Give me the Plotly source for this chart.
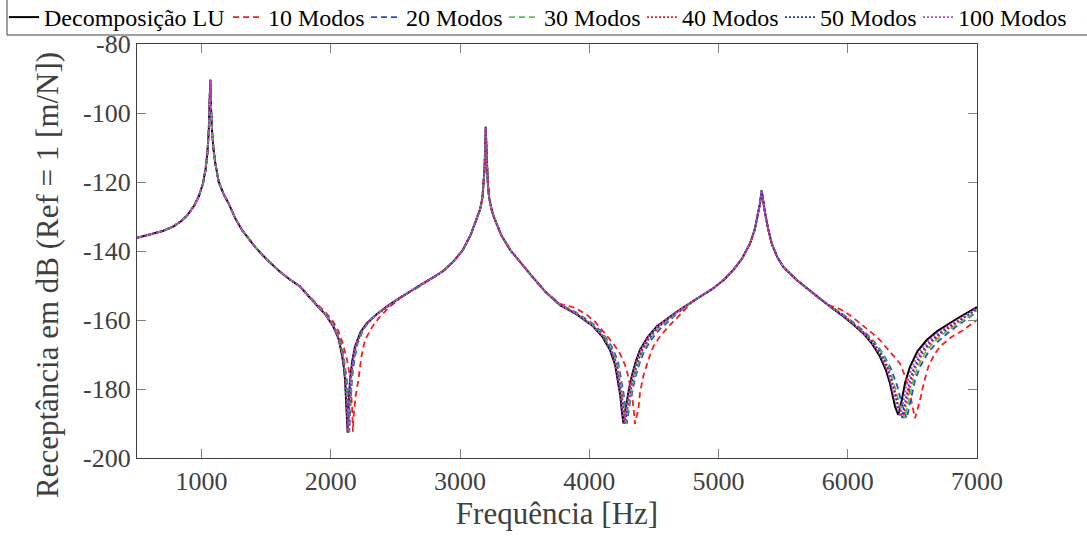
import plotly.graph_objects as go

# ---------------- data ----------------
# shared segments (all series overlap there)
p1_f = [500, 600, 700, 780, 840, 890, 940, 980, 1010, 1030, 1045, 1055, 1062, 1067,
        1073, 1080, 1092, 1106, 1132, 1170, 1209, 1260, 1312, 1413, 1500, 1600, 1680, 1761]
p1_db = [-136.2, -135.3, -134.2, -132.9, -131.4, -129.6, -127.0, -124.0, -120.5, -116.5, -111.5, -105.5, -98.5, -90.4,
         -98.5, -104.9, -110.5, -114.6, -119.9, -123.5, -126.2, -130.5, -133.9, -138.8, -142.3, -145.8, -148.2, -150.3]

p2_f = [2780, 2870, 2950, 3020, 3080, 3130, 3154, 3173, 3183, 3189, 3194, 3199, 3204, 3209, 3215, 3225, 3244, 3265,
        3320, 3390, 3470, 3560, 3660]
p2_db = [-148.0, -145.8, -143.0, -139.8, -135.5, -130.5, -128.0, -124.6, -120.5, -116.3, -110.5, -104.0, -110.5, -116.3,
         -120.5, -124.6, -128.0, -130.5, -135.5, -139.8, -143.5, -147.5, -151.8]

p3_f = [4800, 4960, 5040, 5114, 5180, 5244, 5280, 5308, 5322, 5334, 5346, 5360, 5385, 5411, 5455, 5501, 5605, 5700, 5780]
p3_db = [-154.6, -150.8, -148.4, -145.5, -142.3, -137.8, -133.8, -129.0, -126.0, -122.5, -126.0, -129.0, -133.8, -137.8, -141.8, -144.6, -148.4, -151.3, -153.8]

# antiresonance 1
lu_a1_f = [1890, 1960, 2019, 2060, 2084, 2100, 2110, 2118, 2124, 2130, 2136, 2142, 2148, 2165, 2187, 2230, 2277, 2350, 2432, 2520, 2612, 2690]
lu_a1_db = [-155.7, -158.5, -161.9, -165.5, -169.7, -173.5, -177.4, -182.5, -187.5, -192.7, -186.5, -181.5, -177.4, -172.0, -167.7, -163.5, -161.0, -158.5, -156.1, -153.9, -151.8, -149.9]
m10_a1_f = [1890, 1960, 2019, 2060, 2096, 2125, 2148, 2160, 2166, 2170, 2178, 2192, 2213, 2237, 2264, 2320, 2380, 2455, 2535, 2610, 2690]
m10_a1_db = [-155.3, -157.8, -160.5, -163.3, -167.2, -171.5, -176.4, -181.5, -186.5, -192.4, -187.0, -182.0, -177.4, -170.5, -165.8, -162.0, -159.0, -156.2, -153.7, -151.9, -150.2]
m20_a1_f = [1890, 1960, 2019, 2064, 2093, 2110, 2122, 2131, 2137, 2143, 2150, 2157, 2164, 2183, 2206, 2250, 2297, 2368, 2448, 2532, 2612, 2690]
m20_a1_db = [-155.5, -158.1, -161.3, -164.8, -169.0, -172.9, -176.8, -182.0, -187.0, -192.5, -186.0, -181.0, -176.9, -171.3, -167.0, -162.8, -160.3, -157.8, -155.7, -153.7, -151.8, -150.0]
m30_a1_f = [1890, 1960, 2019, 2062, 2090, 2106, 2118, 2127, 2133, 2139, 2145, 2151, 2158, 2176, 2199, 2243, 2290, 2362, 2444, 2528, 2612, 2690]
m30_a1_db = [-155.6, -158.3, -161.6, -165.1, -169.4, -173.2, -177.1, -182.2, -187.2, -192.5, -186.2, -181.2, -177.1, -171.6, -167.3, -163.1, -160.6, -158.1, -155.9, -153.8, -151.8, -149.9]
m40_a1_f = [1890, 1960, 2019, 2060, 2088, 2104, 2115, 2124, 2130, 2136, 2142, 2148, 2154, 2172, 2195, 2238, 2285, 2358, 2440, 2526, 2612, 2690]
m40_a1_db = [-155.6, -158.4, -161.7, -165.2, -169.5, -173.3, -177.2, -182.3, -187.3, -192.6, -186.3, -181.3, -177.2, -171.8, -167.5, -163.3, -160.8, -158.3, -156.0, -153.9, -151.8, -149.9]
m50_a1_f = [1890, 1960, 2019, 2060, 2087, 2103, 2114, 2122, 2128, 2134, 2140, 2146, 2152, 2170, 2192, 2235, 2282, 2355, 2437, 2524, 2612, 2690]
m50_a1_db = [-155.7, -158.5, -161.8, -165.3, -169.6, -173.4, -177.3, -182.4, -187.4, -192.6, -186.4, -181.4, -177.3, -171.9, -167.6, -163.4, -160.9, -158.4, -156.1, -153.9, -151.8, -149.9]
m100_a1_f = [1890, 1960, 2019, 2060, 2086, 2102, 2112, 2120, 2126, 2132, 2138, 2144, 2150, 2167, 2189, 2232, 2279, 2352, 2434, 2522, 2612, 2690]
m100_a1_db = [-155.7, -158.5, -161.9, -165.4, -169.7, -173.5, -177.4, -182.5, -187.5, -192.7, -186.5, -181.5, -177.4, -172.0, -167.7, -163.5, -161.0, -158.5, -156.1, -153.9, -151.8, -149.9]

# antiresonance 2
lu_a2_f = [3773, 3900, 4031, 4100, 4160, 4200, 4225, 4240, 4251, 4264, 4277, 4290, 4310, 4328, 4360, 4392, 4450, 4521, 4600, 4676]
lu_a2_db = [-155.7, -158.3, -161.9, -164.8, -168.7, -173.0, -178.4, -182.0, -186.1, -190.0, -186.5, -183.2, -179.5, -176.4, -172.0, -168.7, -165.0, -161.9, -159.6, -157.6]
m10_a2_f = [3773, 3876, 3967, 4044, 4121, 4186, 4237, 4276, 4302, 4320, 4335, 4346, 4354, 4366, 4379, 4392, 4417, 4456, 4495, 4547, 4612, 4676]
m10_a2_db = [-155.3, -156.3, -158.1, -160.5, -163.9, -166.8, -169.7, -173.0, -176.4, -179.8, -183.2, -187.0, -190.1, -188.0, -186.1, -181.2, -176.4, -171.6, -167.7, -164.8, -161.9, -159.5]
m20_a2_f = [3773, 3900, 4031, 4108, 4176, 4222, 4249, 4265, 4277, 4290, 4304, 4318, 4340, 4358, 4391, 4423, 4480, 4547, 4620, 4676]
m20_a2_db = [-155.5, -157.8, -161.2, -164.0, -167.9, -172.0, -177.4, -181.3, -185.6, -190.0, -186.5, -183.2, -179.5, -176.4, -172.3, -169.2, -165.7, -162.6, -160.2, -158.2]
m30_a2_f = [3773, 3900, 4031, 4106, 4172, 4216, 4242, 4258, 4270, 4283, 4297, 4311, 4332, 4350, 4382, 4414, 4472, 4540, 4615, 4676]
m30_a2_db = [-155.6, -158.0, -161.5, -164.3, -168.2, -172.4, -177.8, -181.6, -185.8, -190.0, -186.5, -183.2, -179.5, -176.4, -172.2, -169.0, -165.4, -162.3, -159.9, -157.9]
m40_a2_f = [3773, 3900, 4031, 4104, 4168, 4211, 4237, 4253, 4265, 4278, 4291, 4305, 4326, 4344, 4376, 4408, 4466, 4535, 4611, 4676]
m40_a2_db = [-155.6, -158.1, -161.7, -164.5, -168.4, -172.6, -178.0, -181.8, -185.9, -190.0, -186.5, -183.2, -179.5, -176.4, -172.1, -168.9, -165.2, -162.1, -159.8, -157.8]
m50_a2_f = [3773, 3900, 4031, 4102, 4165, 4207, 4232, 4248, 4260, 4273, 4286, 4299, 4320, 4338, 4370, 4402, 4460, 4530, 4607, 4676]
m50_a2_db = [-155.7, -158.2, -161.8, -164.6, -168.5, -172.8, -178.2, -181.9, -186.0, -190.0, -186.5, -183.2, -179.5, -176.4, -172.0, -168.8, -165.1, -162.0, -159.7, -157.7]
m100_a2_f = [3773, 3900, 4031, 4101, 4162, 4203, 4228, 4243, 4255, 4268, 4281, 4294, 4314, 4332, 4364, 4396, 4454, 4525, 4603, 4676]
m100_a2_db = [-155.7, -158.3, -161.9, -164.7, -168.6, -172.9, -178.3, -182.0, -186.1, -190.0, -186.5, -183.2, -179.5, -176.4, -172.0, -168.7, -165.0, -161.9, -159.6, -157.6]

# antiresonance 3
lu_a3_f = [5862, 5950, 6040, 6120, 6190, 6249, 6295, 6327, 6350, 6366, 6391, 6405, 6418, 6445, 6482, 6540, 6611, 6690, 6766, 6850, 6930, 7000]
lu_a3_db = [-156.1, -158.5, -161.2, -163.9, -167.0, -170.6, -174.5, -178.4, -182.0, -185.1, -187.5, -185.5, -183.2, -178.0, -173.5, -169.0, -165.8, -163.3, -161.4, -159.5, -157.8, -156.3]
m10_a3_f = [5862, 5939, 6017, 6100, 6180, 6249, 6310, 6360, 6404, 6440, 6470, 6490, 6508, 6520, 6535, 6559, 6590, 6624, 6670, 6714, 6800, 6894, 7000]
m10_a3_db = [-155.8, -156.8, -158.6, -161.0, -163.5, -165.8, -168.5, -170.8, -172.6, -176.0, -179.5, -183.0, -186.1, -188.5, -186.5, -183.2, -178.0, -173.5, -170.0, -167.7, -165.0, -162.9, -160.0]
m20_a3_f = [5862, 5950, 6040, 6120, 6200, 6270, 6330, 6380, 6410, 6435, 6456, 6470, 6490, 6520, 6560, 6620, 6690, 6770, 6850, 6930, 7000]
m20_a3_db = [-156.0, -158.0, -160.6, -163.1, -166.1, -169.6, -173.8, -178.8, -183.0, -186.5, -188.5, -186.0, -182.5, -177.5, -173.5, -169.5, -166.5, -163.9, -161.6, -159.4, -157.6]
m30_a3_f = [5862, 5950, 6040, 6120, 6200, 6265, 6316, 6352, 6380, 6400, 6440, 6455, 6470, 6500, 6538, 6596, 6661, 6736, 6808, 6883, 6953, 7000]
m30_a3_db = [-156.0, -158.1, -160.8, -163.4, -166.4, -169.6, -173.5, -177.6, -181.3, -184.7, -188.5, -186.2, -183.7, -178.5, -174.0, -169.7, -166.6, -164.1, -162.2, -160.3, -158.6, -157.1]
m40_a3_f = [5862, 5950, 6040, 6120, 6198, 6260, 6310, 6345, 6372, 6391, 6428, 6442, 6457, 6487, 6524, 6582, 6649, 6725, 6798, 6875, 6947, 7000]
m40_a3_db = [-156.0, -158.2, -160.9, -163.5, -166.5, -169.8, -173.7, -177.8, -181.5, -184.8, -188.4, -186.1, -183.6, -178.4, -173.9, -169.5, -166.4, -163.9, -162.0, -160.1, -158.4, -156.9]
m50_a3_f = [5862, 5950, 6040, 6120, 6195, 6256, 6305, 6339, 6365, 6384, 6418, 6432, 6446, 6475, 6512, 6570, 6638, 6715, 6789, 6868, 6942, 7000]
m50_a3_db = [-156.1, -158.3, -161.0, -163.6, -166.6, -170.0, -173.9, -178.0, -181.6, -184.9, -188.3, -186.0, -183.5, -178.3, -173.8, -169.3, -166.2, -163.7, -161.8, -159.9, -158.2, -156.7]
m100_a3_f = [5862, 5950, 6040, 6120, 6192, 6252, 6300, 6333, 6358, 6376, 6405, 6419, 6432, 6460, 6497, 6555, 6625, 6703, 6778, 6860, 6936, 7000]
m100_a3_db = [-156.1, -158.4, -161.1, -163.8, -166.8, -170.3, -174.2, -178.2, -181.8, -185.0, -188.0, -185.8, -183.4, -178.2, -173.7, -169.2, -166.0, -163.5, -161.6, -159.7, -158.0, -156.5]

series_names = ["Decomposição LU", "10 Modos", "20 Modos", "30 Modos", "40 Modos", "50 Modos", "100 Modos"]
x_ticks = [1000, 2000, 3000, 4000, 5000, 6000, 7000]
y_ticks = [-80, -100, -120, -140, -160, -180, -200]
x_title = "Frequência [Hz]"
y_title = "Receptância em dB (Ref = 1 [m/N])"

# ---------------- layout constants (pixels) ----------------
W, H = 1087, 536
ML, MR, MT, MB = 137, 110, 44, 78
PW, PH = W - ML - MR, H - MT - MB
legend_left_px = [4, 228, 366, 504, 642, 780, 918]   # left edge of each legend entry
legend_top_px = -5
legend_box = dict(left=7, right=1095, top=-6, bottom=35)
y_title_center_px = (47, 275)


def px_to_paper_x(px):
    return (px - ML) / PW


def px_to_paper_y(py):
    return (H - MB - py) / PH


# ---------------- figure ----------------
segments = [
    (lu_a1_f, lu_a1_db, lu_a2_f, lu_a2_db, lu_a3_f, lu_a3_db),
    (m10_a1_f, m10_a1_db, m10_a2_f, m10_a2_db, m10_a3_f, m10_a3_db),
    (m20_a1_f, m20_a1_db, m20_a2_f, m20_a2_db, m20_a3_f, m20_a3_db),
    (m30_a1_f, m30_a1_db, m30_a2_f, m30_a2_db, m30_a3_f, m30_a3_db),
    (m40_a1_f, m40_a1_db, m40_a2_f, m40_a2_db, m40_a3_f, m40_a3_db),
    (m50_a1_f, m50_a1_db, m50_a2_f, m50_a2_db, m50_a3_f, m50_a3_db),
    (m100_a1_f, m100_a1_db, m100_a2_f, m100_a2_db, m100_a3_f, m100_a3_db),
]
styles = [
    dict(color="#000000", width=2, dash="solid"),
    dict(color="#ff1a1a", width=1.8, dash="6px,4px"),
    dict(color="#2050c8", width=1.8, dash="6px,4px"),
    dict(color="#50c850", width=1.8, dash="6px,4px"),
    dict(color="#ff1a1a", width=1.8, dash="2px,2px"),
    dict(color="#2030c0", width=1.8, dash="2px,2px"),
    dict(color="#c040c0", width=1.8, dash="2px,2px"),
]

font_family = "Liberation Serif, Times New Roman, serif"
fig = go.Figure()
legend_layouts = {}
for i, (name, seg, st) in enumerate(zip(series_names, segments, styles)):
    a1f, a1d, a2f, a2d, a3f, a3d = seg
    xs = p1_f + a1f + p2_f + a2f + p3_f + a3f
    ys = p1_db + a1d + p2_db + a2d + p3_db + a3d
    lg = "legend" if i == 0 else f"legend{i + 1}"
    fig.add_trace(go.Scatter(x=xs, y=ys, mode="lines", name=name, line=st, legend=lg))
    legend_layouts[lg] = dict(
        orientation="h", xref="paper", yref="paper",
        x=px_to_paper_x(legend_left_px[i]), xanchor="left",
        y=px_to_paper_y(legend_top_px), yanchor="top",
        font=dict(family=font_family, size=24, color="#000000"),
        borderwidth=0, bgcolor="rgba(0,0,0,0)", itemwidth=30,
    )

axis_common = dict(
    showline=True, linecolor="#404040", linewidth=1.2, mirror="ticks",
    ticks="inside", ticklen=9, tickcolor="#808080", tickwidth=1.2,
    showgrid=False, zeroline=False,
    tickfont=dict(family=font_family, size=26, color="#404040"),
)
fig.update_xaxes(range=[500, 7000], tickvals=x_ticks, ticktext=[str(v) for v in x_ticks],
                 title=dict(text=x_title, font=dict(family=font_family, size=31, color="#404040"), standoff=6),
                 **axis_common)
fig.update_yaxes(range=[-200, -80], tickvals=y_ticks, ticktext=[str(v) for v in y_ticks],
                 **axis_common)

# y-axis title (placed like the reference, slightly below the axis centre)
fig.add_annotation(text=y_title, xref="paper", yref="paper",
                   x=px_to_paper_x(y_title_center_px[0]), y=px_to_paper_y(y_title_center_px[1]),
                   xanchor="center", yanchor="middle", textangle=-90, showarrow=False,
                   font=dict(family=font_family, size=31, color="#404040"))

# legend frame (one box around all entries, as in the reference)
fig.add_shape(type="rect", xref="paper", yref="paper",
              x0=px_to_paper_x(legend_box["left"]), x1=px_to_paper_x(legend_box["right"]),
              y0=px_to_paper_y(legend_box["bottom"]), y1=px_to_paper_y(legend_box["top"]),
              line=dict(color="#404040", width=1), fillcolor="white", layer="below")

fig.update_layout(
    width=W, height=H,
    margin=dict(l=ML, r=MR, t=MT, b=MB, autoexpand=False),
    paper_bgcolor="white", plot_bgcolor="white",
    font=dict(family=font_family, color="#000000"),
    showlegend=True,
    **legend_layouts,
)
fig.write_html("out.html")
